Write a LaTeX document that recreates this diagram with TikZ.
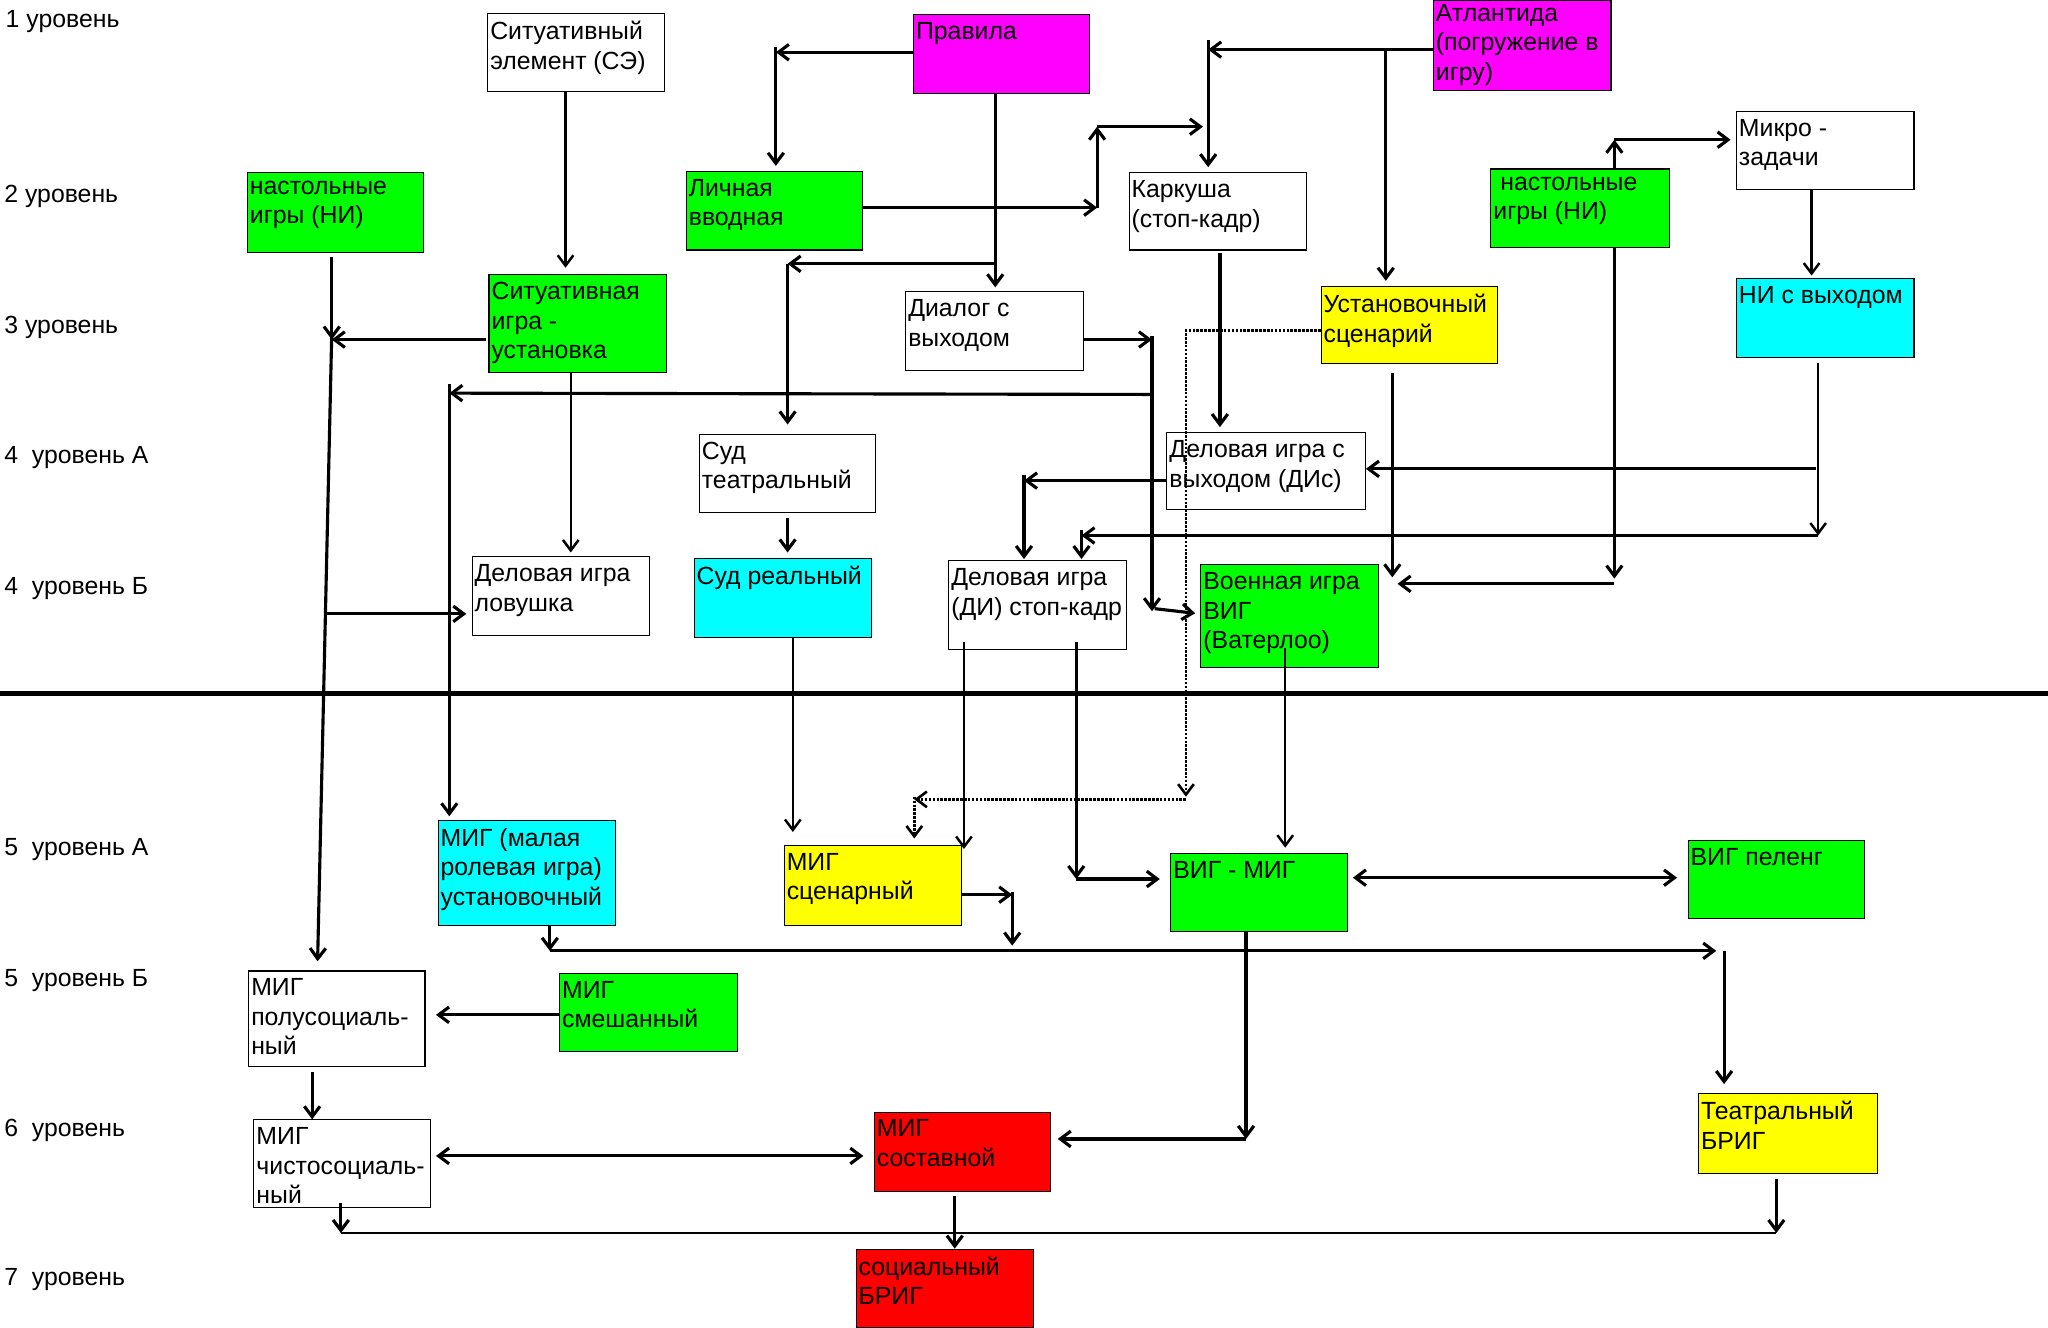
\documentclass[tikz,border=0pt]{standalone}
\usepackage{fontspec}
\setmainfont{Liberation Sans}
\usetikzlibrary{arrows.meta}

\definecolor{grn}{RGB}{0,255,0}
\definecolor{mgn}{RGB}{255,0,255}
\definecolor{ylw}{RGB}{255,255,0}
\definecolor{cyn}{RGB}{0,255,255}
\definecolor{rd}{RGB}{255,0,0}

\tikzset{every picture/.style={line width=0.75pt}}
\tikzset{
  >={Straight Barb[length=8pt,width=12pt]},
  blk/.style={draw, line width=0.8pt, anchor=north west, inner sep=0pt},
  txt/.style={anchor=north west, align=left, inner xsep=2pt, inner ysep=6pt},
  lvl/.style={anchor=base west, inner sep=0pt},
  arr/.style={->, line width=2.4pt},
  arrt/.style={->, line width=1.9pt},
  dotarr/.style={->, densely dotted, line width=2pt},
}

\begin{document}
\begin{tikzpicture}[x=1pt,y=1pt,yscale=-1,xscale=1,font=\fontsize{19}{22.5}\selectfont]
		\useasboundingbox (0,0) rectangle (1568,1016);

		% Level labels
		\node [lvl] (l1) at (4,21) {1 уровень};
		\node [lvl] (l2) at (3,155) {2 уровень};
		\node [lvl] (l3) at (3,255) {3 уровень};
		\node [lvl] (l4a) at (3,355) {4\ \ уровень А};
		\node [lvl] (l4b) at (3,455) {4\ \ уровень Б};
		\node [lvl] (l5a) at (3,655) {5\ \ уровень А};
		\node [lvl] (l5b) at (3,755) {5\ \ уровень Б};
		\node [lvl] (l6) at (3,870) {6\ \ уровень};
		\node [lvl] (l7) at (3,984) {7\ \ уровень};

		%Shape: Rectangle
		\node [blk, minimum width=135, minimum height=60] (se) at (373,10) {};
		% Text Node
		\node [txt] (set) at (se.north west) {Ситуативный\\элемент (СЭ)};
		%Shape: Rectangle
		\node [blk, fill=mgn, minimum width=135, minimum height=60] (prav) at (699,11) {};
		% Text Node
		\node [txt] (pravt) at (prav.north west) {Правила};
		%Shape: Rectangle
		\node [blk, fill=mgn, minimum width=136, minimum height=69] (atl) at (1097,0) {};
		% Text Node
		\node [txt, inner ysep=3pt] (atlt) at (atl.north west) {Атлантида\\(погружение в\\игру)};
		%Shape: Rectangle
		\node [blk, fill=grn, minimum width=135, minimum height=61] (ni1) at (189,132) {};
		% Text Node
		\node [txt] (ni1t) at (ni1.north west) {настольные\\игры (НИ)};
		%Shape: Rectangle
		\node [blk, fill=grn, minimum width=135, minimum height=60] (lich) at (525,131) {};
		% Text Node
		\node [txt] (licht) at (lich.north west) {Личная\\вводная};
		%Shape: Rectangle
		\node [blk, minimum width=136, minimum height=59] (kark) at (864,132) {};
		% Text Node
		\node [txt] (karkt) at (kark.north west) {Каркуша\\(стоп-кадр)};
		%Shape: Rectangle
		\node [blk, fill=grn, minimum width=137, minimum height=60] (ni2) at (1141,129) {};
		% Text Node
		\node [txt] (ni2t) at (ni2.north west) {\hspace*{0.28em}настольные\\игры (НИ)};
		%Shape: Rectangle
		\node [blk, minimum width=136, minimum height=60] (mikro) at (1329,85) {};
		% Text Node
		\node [txt] (mikrot) at (mikro.north west) {Микро -\\задачи};
		%Shape: Rectangle
		\node [blk, fill=grn, minimum width=136, minimum height=75] (sig) at (374,210) {};
		% Text Node
		\node [txt] (sigt) at (sig.north west) {Ситуативная\\игра -\\установка};
		%Shape: Rectangle
		\node [blk, minimum width=136, minimum height=60] (dial) at (693,223) {};
		% Text Node
		\node [txt] (dialt) at (dial.north west) {Диалог с\\выходом};
		%Shape: Rectangle
		\node [blk, fill=ylw, minimum width=135, minimum height=59] (ustsc) at (1011,219) {};
		% Text Node
		\node [txt] (ustsct) at (ustsc.north west) {Установочный\\сценарий};
		%Shape: Rectangle
		\node [blk, fill=cyn, minimum width=136, minimum height=60] (nivyh) at (1329,213) {};
		% Text Node
		\node [txt] (nivyht) at (nivyh.north west) {НИ с выходом};
		%Shape: Rectangle
		\node [blk, minimum width=135, minimum height=60] (sudt) at (535,332) {};
		% Text Node
		\node [txt] (sudtt) at (sudt.north west) {Суд\\театральный};
		%Shape: Rectangle
		\node [blk, minimum width=152, minimum height=59] (dis) at (893,331) {};
		% Text Node
		\node [txt] (dist0) at (dis.north west) {Деловая игра с\\выходом (ДИс)};
		%Shape: Rectangle
		\node [blk, minimum width=136, minimum height=60] (lov) at (361,426) {};
		% Text Node
		\node [txt] (lovt) at (lov.north west) {Деловая игра\\ловушка};
		%Shape: Rectangle
		\node [blk, fill=cyn, minimum width=136, minimum height=61] (sudr) at (531,427) {};
		% Text Node
		\node [txt] (sudrt) at (sudr.north west) {Суд реальный};
		%Shape: Rectangle
		\node [blk, minimum width=136, minimum height=68] (dist) at (726,429) {};
		% Text Node
		\node [txt] (distt) at (dist.north west) {Деловая игра\\(ДИ) стоп-кадр};
		%Shape: Rectangle
		\node [blk, fill=grn, minimum width=136, minimum height=79] (voen) at (919,432) {};
		% Text Node
		\node [txt] (voent) at (voen.north west) {Военная игра\\ВИГ\\(Ватерлоо)};
		%Shape: Rectangle
		\node [blk, fill=cyn, minimum width=136, minimum height=80] (migu) at (335,628) {};
		% Text Node
		\node [txt] (migut) at (migu.north west) {МИГ (малая\\ролевая игра)\\установочный};
		%Shape: Rectangle
		\node [blk, fill=ylw, minimum width=136, minimum height=61] (migsc) at (600,647) {};
		% Text Node
		\node [txt] (migsct) at (migsc.north west) {МИГ\\сценарный};
		%Shape: Rectangle
		\node [blk, fill=grn, minimum width=135, minimum height=60] (vigmig) at (896,653) {};
		% Text Node
		\node [txt] (vigmigt) at (vigmig.north west) {ВИГ - МИГ};
		%Shape: Rectangle
		\node [blk, fill=grn, minimum width=135, minimum height=60] (vigp) at (1292,643) {};
		% Text Node
		\node [txt] (vigpt) at (vigp.north west) {ВИГ пеленг};
		%Shape: Rectangle
		\node [blk, minimum width=135, minimum height=73] (migp) at (190,743) {};
		% Text Node
		\node [txt] (migpt) at (migp.north west) {МИГ\\полусоциаль-\\ный};
		%Shape: Rectangle
		\node [blk, fill=grn, minimum width=136, minimum height=60] (migsm) at (428,745) {};
		% Text Node
		\node [txt] (migsmt) at (migsm.north west) {МИГ\\смешанный};
		%Shape: Rectangle
		\node [blk, minimum width=135, minimum height=67] (migch) at (194,857) {};
		% Text Node
		\node [txt] (migcht) at (migch.north west) {МИГ\\чистосоциаль-\\ный};
		%Shape: Rectangle
		\node [blk, fill=rd, minimum width=135, minimum height=61] (migsost) at (669,851) {};
		% Text Node
		\node [txt] (migsostt) at (migsost.north west) {МИГ\\составной};
		%Shape: Rectangle
		\node [blk, fill=ylw, minimum width=137, minimum height=61] (teabr) at (1300,837) {};
		% Text Node
		\node [txt] (teabrt) at (teabr.north west) {Театральный\\БРИГ};
		%Shape: Rectangle
		\node [blk, fill=rd, minimum width=136, minimum height=60] (socbr) at (655,956) {};
		% Text Node
		\node [txt] (socbrt) at (socbr.north west) {социальный\\БРИГ};

		% Bend points
		\coordinate (c1) at (594,40);
		\coordinate (c2) at (762,202);
		\coordinate (c3) at (603,202);
		\coordinate (c4) at (840,159);
		\coordinate (c5) at (840,97);
		\coordinate (c6) at (921,97);
		\coordinate (c7) at (925,38);
		\coordinate (c8) at (1061,38);
		\coordinate (c9) at (1236,107);
		\coordinate (c10) at (254,260);
		\coordinate (c12) at (250,470);
		\coordinate (c13) at (882,260);
		\coordinate (c14) at (882,468);
		\coordinate (c15) at (881,302);
		\coordinate (c16) at (344,301);
		\coordinate (c17) at (784,368);
		\coordinate (c18) at (1392,410);
		\coordinate (c19) at (828,410);
		\coordinate (c20) at (1390,359);
		\coordinate (c21) at (1066,442);
		\coordinate (c22) at (1236,443);
		\coordinate (c23) at (1070,447);
		\coordinate (c24) at (908,253);
		\coordinate (c25) at (908,610);
		\coordinate (c26) at (700,612);
		\coordinate (c27) at (824,673);
		\coordinate (c28) at (775,685);
		\coordinate (c29) at (775,724);
		\coordinate (c30) at (421,728);
		\coordinate (c31) at (1314,728);
		\coordinate (c32) at (1320,728);
		\coordinate (c33) at (261,944);
		\coordinate (c34) at (1360,944);
		\coordinate (c35) at (954,872);

		%Straight Lines
		\draw [arrt, shorten >=5pt] (se.south -| 433,0) -- (sig.north -| 433,0);
		\draw [arr] (prav.west |- c1) -- (c1);
		\draw [arr, shorten >=4pt] ([yshift=-4pt]c1) -- (lich.north -| c1);
		\draw [arr, shorten >=3pt] (prav.south -| 762,0) -- (dial.north -| 762,0);
		\draw [arr] (c2) -- (c3);
		\draw [arr, shorten >=7pt] (c3) -- (sudt.north -| c3);
		\draw [arr] (lich.east |- c4) -- (c4);
		\draw [arr] (c4) -- (c5);
		\draw [arr] (c5) -- (c6);
		\draw [arr] (atl.west |- c7) -- (c7);
		\draw [arr, shorten >=4pt] ([yshift=-7pt]c7) -- (kark.north -| c7);
		\draw [arr, shorten >=4pt] (c8) -- (ustsc.north -| c8);
		\draw [arr] (ni2.north -| c9) -- (c9);
		\draw [arr, shorten >=4pt] (c9) -- (mikro.west |- c9);
		\draw [arrt, shorten >=2pt] (mikro.south -| 1387,0) -- (nivyh.north -| 1387,0);
		\draw [arr, shorten <=3pt] (ni1.south -| c10) -- (c10);
		\draw [arr, shorten <=2pt] (sig.west |- c10) -- (c10);
		\draw [arr, shorten >=7pt] ([yshift=-5pt]c10) -- (migp.north -| 243,0);
		\draw [arr, shorten >=4pt] (c12) -- (lov.west |- c12);
		\draw [arrt, shorten >=3pt] (sig.south -| 437,0) -- (lov.north -| 437,0);
		\draw [arr] (dial.east |- c13) -- (c13);
		\draw [arr] ([yshift=-3pt]c13) -- (c14);
		\draw [arr, shorten >=4pt] ([xshift=2pt,yshift=-2pt]c14) -- (voen.west |- 0,470);
		\draw [arr] (c15) -- (c16);
		\draw [arr, shorten >=3pt] ([yshift=-7pt]c16) -- (migu.north -| c16);
		\draw [arr, shorten <=4pt, shorten >=4pt] (sudt.south -| 603,0) -- (sudr.north -| 603,0);
		\draw [arr, shorten <=2pt, shorten >=4pt] (kark.south -| 934,0) -- (dis.north -| 934,0);
		\draw [arr] (dis.west |- c17) -- (c17);
		\draw [arr, shorten >=1pt] ([yshift=-4pt]c17) -- (dist.north -| c17);
		\draw [arrt, shorten <=4pt] (nivyh.south -| c18) -- (c18);
		\draw [arr] (c18) -- (c19);
		\draw [arr, shorten >=1pt] ([yshift=-4pt]c19) -- (dist.north -| c19);
		\draw [arr] (c20) -- (dis.east |- c20);
		\draw [arr, shorten <=7pt] (ustsc.south -| c21) -- (c21);
		\draw [arr] (ni2.south -| c22) -- (c22);
		\draw [arr] (c22 |- c23) -- (c23);
		%Dotted Lines
		\draw [dotarr] (ustsc.west |- c24) -- (c24) -- (c25);
		\draw [dotarr] (c25 |- c26) -- (c26);
		\draw [dotarr, shorten >=5pt] ([yshift=-2pt]c26) -- (migsc.north -| c26);
		%Straight Lines
		\draw [arrt, shorten >=10pt] (sudr.south -| 607,0) -- (migsc.north -| 607,0);
		\draw [arrt, shorten <=-6pt, shorten >=-3pt] (dist.south -| 738,0) -- (migsc.north -| 738,0);
		\draw [arr, shorten <=-6pt] (dist.south -| c27) -- (c27);
		\draw [arr, shorten >=8pt] (c27) -- (vigmig.west |- c27);
		\draw [arrt, shorten <=-16pt, shorten >=4pt] (voen.south -| 984,0) -- (vigmig.north -| 984,0);
		\draw [<->, line width=2.4pt, shorten <=4pt, shorten >=8pt] (vigmig.east |- 0,672) -- (vigp.west |- 0,672);
		\draw [arr] (migsc.east |- c28) -- (c28);
		\draw [arr] ([yshift=-2pt]c28) -- (c29);
		\draw [arr] (migu.south -| c30) -- (c30);
		\draw [arr] (c30) -- (c31);
		\draw [arr, shorten >=7pt] (c32) -- (teabr.north -| c32);
		\draw [arr, shorten >=8pt] (migsm.west |- 0,777) -- (migp.east |- 0,777);
		\draw [arr, shorten <=4pt] (migp.south -| 239,0) -- (migch.north -| 239,0);
		\draw [<->, line width=2.4pt, shorten <=4pt, shorten >=8pt] (migch.east |- 0,885) -- (migsost.west |- 0,885);
		\draw [arr, shorten <=-4pt] (migch.south -| c33) -- (c33);
		\draw [line width=1pt] (c33) -- (c34);
		\draw [arr, shorten <=4pt] (teabr.south -| c34) -- (c34);
		\draw [arr, shorten <=3pt] (migsost.south -| 731,0) -- (socbr.north -| 731,0);
		\draw [arr] (vigmig.south -| c35) -- (c35);
		\draw [arr, shorten >=5pt] (c35) -- (migsost.east |- c35);

		%Separator
		\draw [line width=4pt] (0,531) -- (1568,531);

	\end{tikzpicture}
\end{document}
